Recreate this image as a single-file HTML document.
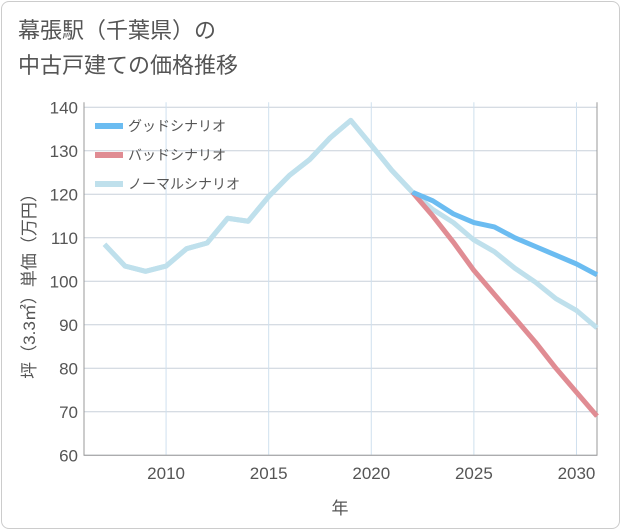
<!DOCTYPE html>
<html><head><meta charset="utf-8"><style>
body{margin:0;background:#fff;font-family:"Liberation Sans","Noto Sans CJK JP",sans-serif;}
.card{position:absolute;left:1px;top:1px;width:617px;height:526px;border:1px solid #ccc;border-radius:8px;background:#fff;}
.title{position:absolute;left:18px;top:13px;font-size:22px;line-height:35px;color:#555;}
</style></head><body>
<div class="card"></div>
<div class="title">幕張駅（千葉県）の<br>中古戸建ての価格推移</div>
<svg id="c" width="621" height="530" style="position:absolute;left:0;top:0"></svg>
<script>
const years=[2007,2008,2009,2010,2011,2012,2013,2014,2015,2016,2017,2018,2019,2020,2021,2022,2023,2024,2025,2026,2027,2028,2029,2030,2031];
const normal=[108.5,103.5,102.3,103.5,107.5,108.8,114.5,113.8,119.5,124.3,128,133,137,131.3,125.5,120.5,116.5,113.5,109.5,106.8,103,99.8,96,93.3,89.3];
const goodYears=[2022,2023,2024,2025,2026,2027,2028,2029,2030,2031];
const good=[120.5,118.5,115.5,113.5,112.5,110,108,106,104,101.5];
const bad=[120.5,115,109,102.5,97,91.5,86,80,74.5,69];
const yTicks=[60,70,80,90,100,110,120,130,140];
const xTicks=[2010,2015,2020,2025,2030];
const X0=84,X1=597,Y0=455.3,Y1=107.3;
const x=v=>X0+(v-2006)/(2031-2006)*(X1-X0);
const y=v=>Y0-(v-60)/(140-60)*(Y0-Y1);
const svg=document.getElementById('c');
const NS='http://www.w3.org/2000/svg';
function mk(t,a){const e=document.createElementNS(NS,t);for(const k in a)e.setAttribute(k,a[k]);svg.appendChild(e);return e;}
yTicks.forEach(v=>{
 const l=mk('line',{x1:X0,x2:X1,y1:y(v),y2:y(v),stroke:'#c8d0da','stroke-width':1});
 
 
 const t=mk('text',{x:78,y:y(v)+6,'text-anchor':'end','font-size':17,fill:'#555'});
 t.textContent=v;
 
 
});
xTicks.forEach(v=>{
 const l=mk('line',{x1:x(v),x2:x(v),y1:Y1-5,y2:Y0,stroke:'#cfe0ee','stroke-width':1});
 
 
 const t=mk('text',{x:x(v),y:479,'text-anchor':'middle','font-size':17,fill:'#555'});
 t.textContent=v;
 
 
});
const ax=mk('path',{d:`M${X0} ${Y1-5}V${Y0}H${X1}V${Y1-5}`,fill:'none',stroke:'#999','stroke-width':1});


function line(xs,vs,col,name){
 const p=mk('polyline',{points:xs.map((t,i)=>x(t)+','+y(vs[i])).join(' '),fill:'none',stroke:col,'stroke-width':5,'stroke-linejoin':'round'});
 
 
}
line(years,normal,'#bfe0ec','normal-scenario-line');
line(goodYears,bad,'#e08c93','bad-scenario-line');
line(goodYears,good,'#6bbcf1','good-scenario-line');
line(years.slice(0,16),normal.slice(0,16),'#bfe0ec','normal-scenario-line-past');
const leg=[['グッドシナリオ','#6bbcf1'],['バッドシナリオ','#e08c93'],['ノーマルシナリオ','#bfe0ec']];
leg.forEach((d,i)=>{
 const yy=126+i*29;
 const r=mk('line',{x1:95,x2:123,y1:yy,y2:yy,stroke:d[1],'stroke-width':6});
 
 
 const t=mk('text',{x:128,y:yy+5,'font-size':14,fill:'#555'});
 t.textContent=d[0];
 
 
});
const xt=mk('text',{x:340,y:514,'text-anchor':'middle','font-size':17,fill:'#555'});
xt.textContent='年';


const yt=mk('text',{x:0,y:0,'text-anchor':'middle','font-size':17,fill:'#555',transform:'translate(35,282) rotate(-90)'});
yt.textContent='坪（3.3㎡）単価（万円）';


</script>
</body></html>
